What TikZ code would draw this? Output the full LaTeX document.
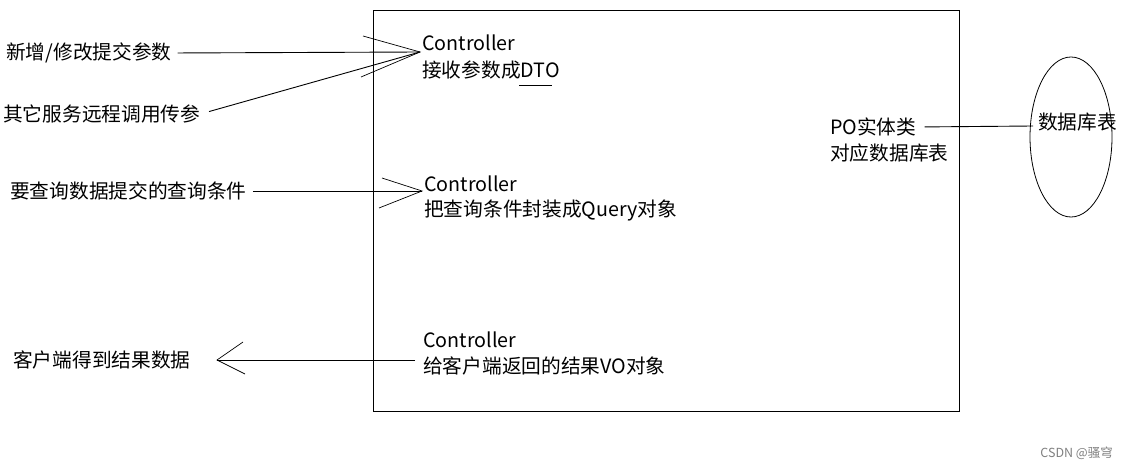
\documentclass[tikz,border=0pt]{standalone}
\usepackage{fontspec}
\setmainfont{Noto Sans CJK SC}
\usetikzlibrary{shapes.geometric}
\begin{document}
\begin{tikzpicture}[x=1pt,y=-1pt,
  txt/.style={anchor=west,inner sep=0pt,font=\fontsize{19.7}{23}\selectfont},
  ln/.style={line width=0.9pt},
  arm/.style={line width=0.7pt}]
\useasboundingbox (0,0) rectangle (1137,470);
\fill[white] (0,0) rectangle (1137,470);
\node[draw, line width=0.9pt, minimum width=586pt, minimum height=401pt, inner sep=0pt] (box) at (666,210.5) {};
% texts
\node[txt] (in1) at (6,53) {新增/修改提交参数};
\node[txt] (in2) at (3,114) {其它服务远程调用传参};
\node[txt] (in3) at (10,191) {要查询数据提交的查询条件};
\node[txt] (out) at (13,360) {客户端得到结果数据};
\node[txt] (c1a) at (422,43) {Controller};
\node[txt] (c1b) at (422,70) {接收参数成DTO};
\node[txt] (c2a) at (424,184) {Controller};
\node[txt] (c2b) at (424,210) {把查询条件封装成Query对象};
\node[txt] (c3a) at (423,340) {Controller};
\node[txt] (c3b) at (423,366) {给客户端返回的结果VO对象};
\node[txt] (po1) at (830,127) {PO实体类};
\node[txt] (po2) at (830,153) {对应数据库表};
\node[draw, ellipse, line width=0.8pt, minimum width=82pt, minimum height=160pt, inner sep=0pt] (db) at (1071,137) {};
\node[txt] (dbt) at (1038,122) {数据库表};
\node[anchor=east, inner sep=0pt, text=gray, font=\fontsize{12.5}{14}\selectfont] (wm) at (1113,453) {CSDN @骚穹};
% coordinates
\coordinate (tip1) at (420,52);
\coordinate (a1u) at (363,36);
\coordinate (a1l) at (361,77);
\coordinate (tip2) at (422,191);
\coordinate (a2u) at (382,178);
\coordinate (a2l) at (379,208);
\coordinate (tip3) at (217,360);
\coordinate (src3) at (415,360);
\coordinate (a3u) at (243,342);
\coordinate (a3l) at (245,374);
\coordinate (poend) at (1033,126);
\coordinate (ul1) at (519,85);
\coordinate (ul2) at (552,85);
% connectors
\draw[ln, shorten <=6pt] (in1.east) -- (tip1);
\draw[ln, shorten <=9pt] (in2.east) -- (tip1);
\draw[arm] (a1u) -- (tip1) -- (a1l);
\draw[ln, shorten <=6pt] (in3.east) -- (tip2);
\draw[arm] (a2u) -- (tip2) -- (a2l);
\draw[ln] (src3) -- (tip3);
\draw[arm] (a3u) -- (tip3) -- (a3l);
\draw[ln, shorten <=8pt] (po1.east) -- (poend);
\draw[ln] (ul1) -- (ul2);
\end{tikzpicture}
\end{document}
